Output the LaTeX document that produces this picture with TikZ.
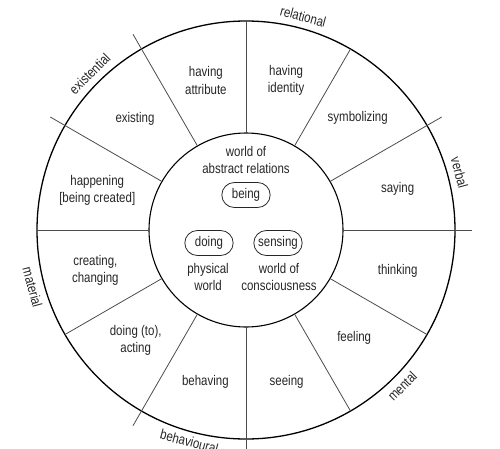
\documentclass[tikz,border=0pt]{standalone}
\usepackage{fontspec}
\setmainfont{Liberation Sans}[FakeStretch=0.82]
\usepackage{tikz}
\usetikzlibrary{shapes.misc}

\tikzset{
  wheel/.style={draw, circle, inner sep=0pt, outer sep=0pt, line width=1.3pt},
  spoke/.style={draw=black!70, line width=0.8pt},
  process/.style={align=center, text=black!85, font=\fontsize{14}{17.5}\selectfont},
  realm/.style={process, draw=black!85, rounded rectangle, minimum width=55pt, minimum height=25pt, line width=0.8pt},
}

\begin{document}
\begin{tikzpicture}[x=1pt, y=1pt]
	\useasboundingbox (-246,-218) rectangle (254,230);

	\node[wheel, minimum size=418pt] (rim) at (0,0) {};
	\node[wheel, minimum size=194pt, line width=1.1pt] (hub) at (0,0) {};

	% spokes; the longer ones mark where the groups meet
	\foreach \a/\len in {0/226,30/226,60/209,90/209,120/226,150/226,180/209,210/209,240/226,270/226,300/209,330/209}
		\draw[spoke] (hub.\a) -- (\a:\len);

	\node[process] (attribute) at (105:155) {having\\attribute};
	\node[process] (identity) at (75:155) {having\\identity};
	\node[process] (symbolizing) at (45:158) {symbolizing};
	\node[process] (saying) at (15:157) {saying};
	\node[process] (thinking) at (-15:157) {thinking};
	\node[process] (feeling) at (-45:153) {feeling};
	\node[process] (seeing) at (-75:157) {seeing};
	\node[process] (behaving) at (-105:157) {behaving};
	\node[process] (acting) at (-135:156) {doing (to),\\acting};
	\node[process] (creating) at (-165:156) {creating,\\changing};
	\node[process] (happening) at (165:154) {happening\\{[}being created{]}};
	\node[process] (existing) at (135:157) {existing};

	\node[process] (abstract) at (0,70) {world of\\abstract relations};
	\node[realm] (being) at (0,35) {being};
	\node[realm] (doing) at (-37,-13) {doing};
	\node[realm] (sensing) at (32,-13) {sensing};
	\node[process] (physical) at (-38,-47) {physical\\world};
	\node[process] (consciousness) at (33,-47) {world of\\consciousness};

	\node[process, rotate=-15] (relational) at (75:221) {relational};
	\node[process, rotate=-75] (verbal) at (15:221) {verbal};
	\node[process, rotate=45] (mental) at (-45:221) {mental};
	\node[process, rotate=-15] (behavioural) at (-105:219) {behavioural};
	\node[process, rotate=-75] (material) at (-165:221) {material};
	\node[process, rotate=45] (existential) at (135:221) {existential};
\end{tikzpicture}
\end{document}
